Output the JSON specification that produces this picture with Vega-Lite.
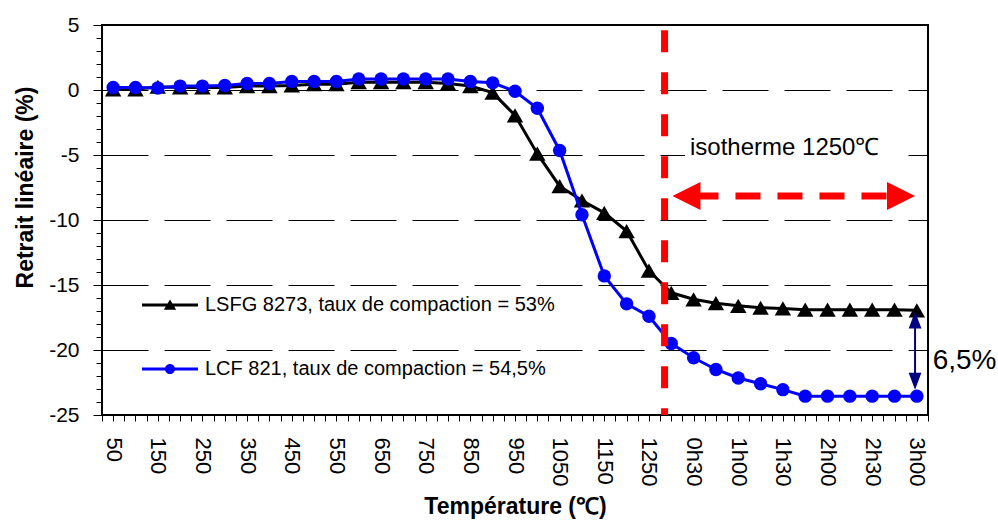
{
  "$schema": "https://vega.github.io/schema/vega-lite/v6.json",
  "width": 826,
  "height": 390,
  "autosize": "none",
  "padding": {"left": 102, "top": 25, "right": 70, "bottom": 107},
  "background": "white",
  "config": {
    "view": {"stroke": "black", "strokeWidth": 2},
    "font": "Liberation Sans",
    "axis": {"domain": false, "labelFont": "Liberation Sans", "titleFont": "Liberation Sans", "labelColor": "black", "titleColor": "black", "tickColor": "black", "tickWidth": 1}
  },
  "data": {
    "values": [
      {"s": "LSFG 8273, taux de compaction = 53%", "i": 0, "t": "50", "v": 0.05},
      {"s": "LSFG 8273, taux de compaction = 53%", "i": 1, "t": "100", "v": 0.05},
      {"s": "LSFG 8273, taux de compaction = 53%", "i": 2, "t": "150", "v": 0.25},
      {"s": "LSFG 8273, taux de compaction = 53%", "i": 3, "t": "200", "v": 0.2},
      {"s": "LSFG 8273, taux de compaction = 53%", "i": 4, "t": "250", "v": 0.2},
      {"s": "LSFG 8273, taux de compaction = 53%", "i": 5, "t": "300", "v": 0.2},
      {"s": "LSFG 8273, taux de compaction = 53%", "i": 6, "t": "350", "v": 0.3},
      {"s": "LSFG 8273, taux de compaction = 53%", "i": 7, "t": "400", "v": 0.3},
      {"s": "LSFG 8273, taux de compaction = 53%", "i": 8, "t": "450", "v": 0.35},
      {"s": "LSFG 8273, taux de compaction = 53%", "i": 9, "t": "500", "v": 0.45},
      {"s": "LSFG 8273, taux de compaction = 53%", "i": 10, "t": "550", "v": 0.45},
      {"s": "LSFG 8273, taux de compaction = 53%", "i": 11, "t": "600", "v": 0.6},
      {"s": "LSFG 8273, taux de compaction = 53%", "i": 12, "t": "650", "v": 0.6},
      {"s": "LSFG 8273, taux de compaction = 53%", "i": 13, "t": "700", "v": 0.6},
      {"s": "LSFG 8273, taux de compaction = 53%", "i": 14, "t": "750", "v": 0.6},
      {"s": "LSFG 8273, taux de compaction = 53%", "i": 15, "t": "800", "v": 0.5},
      {"s": "LSFG 8273, taux de compaction = 53%", "i": 16, "t": "850", "v": 0.3},
      {"s": "LSFG 8273, taux de compaction = 53%", "i": 17, "t": "900", "v": -0.2},
      {"s": "LSFG 8273, taux de compaction = 53%", "i": 18, "t": "950", "v": -1.95},
      {"s": "LSFG 8273, taux de compaction = 53%", "i": 19, "t": "1000", "v": -4.9},
      {"s": "LSFG 8273, taux de compaction = 53%", "i": 20, "t": "1050", "v": -7.4},
      {"s": "LSFG 8273, taux de compaction = 53%", "i": 21, "t": "1100", "v": -8.5},
      {"s": "LSFG 8273, taux de compaction = 53%", "i": 22, "t": "1150", "v": -9.45},
      {"s": "LSFG 8273, taux de compaction = 53%", "i": 23, "t": "1200", "v": -10.85},
      {"s": "LSFG 8273, taux de compaction = 53%", "i": 24, "t": "1250", "v": -13.9},
      {"s": "LSFG 8273, taux de compaction = 53%", "i": 25, "t": "0h15", "v": -15.6},
      {"s": "LSFG 8273, taux de compaction = 53%", "i": 26, "t": "0h30", "v": -16.1},
      {"s": "LSFG 8273, taux de compaction = 53%", "i": 27, "t": "0h45", "v": -16.4},
      {"s": "LSFG 8273, taux de compaction = 53%", "i": 28, "t": "1h00", "v": -16.6},
      {"s": "LSFG 8273, taux de compaction = 53%", "i": 29, "t": "1h15", "v": -16.75},
      {"s": "LSFG 8273, taux de compaction = 53%", "i": 30, "t": "1h30", "v": -16.8},
      {"s": "LSFG 8273, taux de compaction = 53%", "i": 31, "t": "1h45", "v": -16.9},
      {"s": "LSFG 8273, taux de compaction = 53%", "i": 32, "t": "2h00", "v": -16.9},
      {"s": "LSFG 8273, taux de compaction = 53%", "i": 33, "t": "2h15", "v": -16.9},
      {"s": "LSFG 8273, taux de compaction = 53%", "i": 34, "t": "2h30", "v": -16.9},
      {"s": "LSFG 8273, taux de compaction = 53%", "i": 35, "t": "2h45", "v": -16.9},
      {"s": "LSFG 8273, taux de compaction = 53%", "i": 36, "t": "3h00", "v": -16.95},
      {"s": "LCF 821, taux de compaction = 54,5%", "i": 0, "t": "50", "v": 0.2},
      {"s": "LCF 821, taux de compaction = 54,5%", "i": 1, "t": "100", "v": 0.2},
      {"s": "LCF 821, taux de compaction = 54,5%", "i": 2, "t": "150", "v": 0.15},
      {"s": "LCF 821, taux de compaction = 54,5%", "i": 3, "t": "200", "v": 0.3},
      {"s": "LCF 821, taux de compaction = 54,5%", "i": 4, "t": "250", "v": 0.3},
      {"s": "LCF 821, taux de compaction = 54,5%", "i": 5, "t": "300", "v": 0.35},
      {"s": "LCF 821, taux de compaction = 54,5%", "i": 6, "t": "350", "v": 0.5},
      {"s": "LCF 821, taux de compaction = 54,5%", "i": 7, "t": "400", "v": 0.5},
      {"s": "LCF 821, taux de compaction = 54,5%", "i": 8, "t": "450", "v": 0.65},
      {"s": "LCF 821, taux de compaction = 54,5%", "i": 9, "t": "500", "v": 0.65},
      {"s": "LCF 821, taux de compaction = 54,5%", "i": 10, "t": "550", "v": 0.65},
      {"s": "LCF 821, taux de compaction = 54,5%", "i": 11, "t": "600", "v": 0.85},
      {"s": "LCF 821, taux de compaction = 54,5%", "i": 12, "t": "650", "v": 0.85},
      {"s": "LCF 821, taux de compaction = 54,5%", "i": 13, "t": "700", "v": 0.85},
      {"s": "LCF 821, taux de compaction = 54,5%", "i": 14, "t": "750", "v": 0.85},
      {"s": "LCF 821, taux de compaction = 54,5%", "i": 15, "t": "800", "v": 0.85},
      {"s": "LCF 821, taux de compaction = 54,5%", "i": 16, "t": "850", "v": 0.65},
      {"s": "LCF 821, taux de compaction = 54,5%", "i": 17, "t": "900", "v": 0.55},
      {"s": "LCF 821, taux de compaction = 54,5%", "i": 18, "t": "950", "v": -0.1},
      {"s": "LCF 821, taux de compaction = 54,5%", "i": 19, "t": "1000", "v": -1.4},
      {"s": "LCF 821, taux de compaction = 54,5%", "i": 20, "t": "1050", "v": -4.65},
      {"s": "LCF 821, taux de compaction = 54,5%", "i": 21, "t": "1100", "v": -9.6},
      {"s": "LCF 821, taux de compaction = 54,5%", "i": 22, "t": "1150", "v": -14.3},
      {"s": "LCF 821, taux de compaction = 54,5%", "i": 23, "t": "1200", "v": -16.45},
      {"s": "LCF 821, taux de compaction = 54,5%", "i": 24, "t": "1250", "v": -17.4},
      {"s": "LCF 821, taux de compaction = 54,5%", "i": 25, "t": "0h15", "v": -19.5},
      {"s": "LCF 821, taux de compaction = 54,5%", "i": 26, "t": "0h30", "v": -20.6},
      {"s": "LCF 821, taux de compaction = 54,5%", "i": 27, "t": "0h45", "v": -21.5},
      {"s": "LCF 821, taux de compaction = 54,5%", "i": 28, "t": "1h00", "v": -22.15},
      {"s": "LCF 821, taux de compaction = 54,5%", "i": 29, "t": "1h15", "v": -22.6},
      {"s": "LCF 821, taux de compaction = 54,5%", "i": 30, "t": "1h30", "v": -23.05},
      {"s": "LCF 821, taux de compaction = 54,5%", "i": 31, "t": "1h45", "v": -23.55},
      {"s": "LCF 821, taux de compaction = 54,5%", "i": 32, "t": "2h00", "v": -23.55},
      {"s": "LCF 821, taux de compaction = 54,5%", "i": 33, "t": "2h15", "v": -23.55},
      {"s": "LCF 821, taux de compaction = 54,5%", "i": 34, "t": "2h30", "v": -23.55},
      {"s": "LCF 821, taux de compaction = 54,5%", "i": 35, "t": "2h45", "v": -23.55},
      {"s": "LCF 821, taux de compaction = 54,5%", "i": 36, "t": "3h00", "v": -23.55}
    ]
  },
  "layer": [
    {
      "data": {"values": [{"i": 25.62, "i2": 35.47, "v": -3.6, "v2": -5.65}]},
      "mark": {"type": "rect", "fill": "white"},
      "encoding": {
        "x": {"field": "i", "type": "quantitative"},
        "x2": {"field": "i2"},
        "y": {"field": "v", "type": "quantitative"},
        "y2": {"field": "v2"}
      }
    },
    {
      "transform": [{"filter": "datum.s === 'LSFG 8273, taux de compaction = 53%'"}],
      "mark": {"type": "line", "strokeWidth": 3, "color": "#000000"},
      "encoding": {
        "x": {
          "field": "i", "type": "quantitative",
          "scale": {"domain": [-0.5, 36.5], "nice": false, "zero": false},
          "axis": {
            "title": "Température (℃)",
            "titleFontSize": 23, "titleFontWeight": "bold", "titleBaseline": "alphabetic", "titleY": 98,
            "values": [-0.5,0,0.5,1,1.5,2,2.5,3,3.5,4,4.5,5,5.5,6,6.5,7,7.5,8,8.5,9,9.5,10,10.5,11,11.5,12,12.5,13,13.5,14,14.5,15,15.5,16,16.5,17,17.5,18,18.5,19,19.5,20,20.5,21,21.5,22,22.5,23,23.5,24,24.5,25,25.5,26,26.5,27,27.5,28,28.5,29,29.5,30,30.5,31,31.5,32,32.5,33,33.5,34,34.5,35,35.5,36,36.5],
            "tickCount": 200,
            "labelExpr": "datum.value % 2 === 0 ? (datum.value <= 24 ? toString(50 + 50 * datum.value) : floor((datum.value - 24) / 4) + 'h' + ((datum.value - 24) % 4 === 2 ? '30' : '00')) : ''",
            "labelAngle": 90, "labelFontSize": 22, "labelPadding": 16, "tickSize": 6,
            "grid": false, "labelOverlap": false, "labelBound": false
          }
        },
        "y": {
          "field": "v", "type": "quantitative",
          "scale": {"domain": [-25, 5], "nice": false, "zero": false},
          "axis": {
            "title": "Retrait linéaire (%)",
            "titleFontSize": 23, "titleFontWeight": "bold", "titleBaseline": "alphabetic", "titleAngle": -90, "titleAlign": "center",
            "titleX": -70, "titleY": 162,
            "values": [-25,-24,-23,-22,-21,-20,-19,-18,-17,-16,-15,-14,-13,-12,-11,-10,-9,-8,-7,-6,-5,-4,-3,-2,-1,0,1,2,3,4,5],
            "tickCount": 100,
            "labelExpr": "datum.value % 5 === 0 ? toString(datum.value) : ''",
            "labelFontSize": 21, "labelPadding": 14,
            "tickSize": {"condition": {"test": "datum.value % 5 === 0", "value": 9}, "value": 6},
            "grid": true, "gridColor": "black", "gridWidth": 1, "gridDash": [46, 16],
            "gridOpacity": {"condition": {"test": "datum.value % 5 === 0 && datum.value > -25 && datum.value < 5", "value": 1}, "value": 0},
            "labelOverlap": false
          }
        }
      }
    },
    {
      "transform": [{"filter": "datum.s === 'LSFG 8273, taux de compaction = 53%'"}],
      "mark": {"type": "point", "filled": true, "opacity": 1, "shape": "triangle-up", "size": 270, "color": "#000000"},
      "encoding": {
        "x": {"field": "i", "type": "quantitative"},
        "y": {"field": "v", "type": "quantitative"}
      }
    },
    {
      "transform": [{"filter": "datum.s === 'LCF 821, taux de compaction = 54,5%'"}],
      "mark": {"type": "line", "strokeWidth": 3, "color": "#0000FF"},
      "encoding": {
        "x": {"field": "i", "type": "quantitative"},
        "y": {"field": "v", "type": "quantitative"}
      }
    },
    {
      "transform": [{"filter": "datum.s === 'LCF 821, taux de compaction = 54,5%'"}],
      "mark": {"type": "point", "filled": true, "opacity": 1, "shape": "circle", "size": 180, "color": "#0000FF"},
      "encoding": {
        "x": {"field": "i", "type": "quantitative"},
        "y": {"field": "v", "type": "quantitative"}
      }
    },
    {
      "mark": {"type": "point", "filled": true, "opacity": 0},
      "encoding": {
        "x": {"field": "i", "type": "quantitative"},
        "y": {"field": "v", "type": "quantitative"},
        "color": {
          "field": "s", "type": "nominal",
          "scale": {"domain": ["LSFG 8273, taux de compaction = 53%", "LCF 821, taux de compaction = 54,5%"], "range": ["#000000", "#0000FF"]},
          "legend": {
            "title": null, "orient": "none", "legendX": 40, "legendY": 252, "padding": 0,
            "symbolSize": 3136, "symbolOpacity": 1, "symbolStrokeWidth": 0,
            "labelFontSize": 20, "labelFont": "Liberation Sans", "labelColor": "black", "labelLimit": 1000,
            "labelOffset": 7, "rowPadding": 26
          }
        },
        "shape": {
          "field": "s", "type": "nominal",
          "scale": {"domain": ["LSFG 8273, taux de compaction = 53%", "LCF 821, taux de compaction = 54,5%"], "range": ["M-1,-0.054L1,-0.054L1,0.054L-1,0.054ZM0,-0.2L0.22,0.17L-0.22,0.17Z", "M-1,-0.054L1,-0.054L1,0.054L-1,0.054ZM0.18,0A0.18,0.18,0,1,1,-0.18,0A0.18,0.18,0,1,1,0.18,0Z"]},
          "legend": {
            "title": null, "orient": "none", "legendX": 40, "legendY": 252, "padding": 0,
            "symbolSize": 3136, "symbolOpacity": 1, "symbolStrokeWidth": 0,
            "labelFontSize": 20, "labelFont": "Liberation Sans", "labelColor": "black", "labelLimit": 1000,
            "labelOffset": 7, "rowPadding": 26
          }
        }
      }
    },
    {
      "data": {"values": [{"i": 24.7, "v": 4.6, "v2": -25}]},
      "mark": {"type": "rule", "color": "#FF0000", "strokeWidth": 7, "strokeDash": [22, 20]},
      "encoding": {
        "x": {"field": "i", "type": "quantitative"},
        "y": {"field": "v", "type": "quantitative"},
        "y2": {"field": "v2"}
      }
    },
    {
      "data": {"values": [{"i": 34.64, "i2": 25.93, "v": -8.15}]},
      "mark": {"type": "rule", "color": "#FF0000", "strokeWidth": 7, "strokeDash": [25, 17]},
      "encoding": {
        "x": {"field": "i", "type": "quantitative"},
        "x2": {"field": "i2"},
        "y": {"field": "v", "type": "quantitative"}
      }
    },
    {
      "data": {"values": [{"i": 25.68, "v": -8.15}]},
      "mark": {"type": "point", "shape": "M-1,0L1,-1L1,1Z", "filled": true, "color": "#FF0000", "size": 784, "opacity": 1},
      "encoding": {
        "x": {"field": "i", "type": "quantitative"},
        "y": {"field": "v", "type": "quantitative"}
      }
    },
    {
      "data": {"values": [{"i": 35.29, "v": -8.15}]},
      "mark": {"type": "point", "shape": "M1,0L-1,-1L-1,1Z", "filled": true, "color": "#FF0000", "size": 784, "opacity": 1},
      "encoding": {
        "x": {"field": "i", "type": "quantitative"},
        "y": {"field": "v", "type": "quantitative"}
      }
    },
    {
      "data": {"values": [{"i": 25.84, "v": -5.0, "label": "isotherme 1250℃"}]},
      "mark": {"type": "text", "align": "left", "baseline": "alphabetic", "fontSize": 24, "font": "Liberation Sans", "color": "black"},
      "encoding": {
        "x": {"field": "i", "type": "quantitative"},
        "y": {"field": "v", "type": "quantitative"},
        "text": {"field": "label"}
      }
    },
    {
      "data": {"values": [{"i": 35.92, "v": -17.6, "v2": -22.5}]},
      "mark": {"type": "rule", "color": "#000080", "strokeWidth": 2},
      "encoding": {
        "x": {"field": "i", "type": "quantitative"},
        "y": {"field": "v", "type": "quantitative"},
        "y2": {"field": "v2"}
      }
    },
    {
      "data": {"values": [{"i": 35.92, "v": -17.7}]},
      "mark": {"type": "point", "shape": "M0,-1L0.75,1L-0.75,1Z", "filled": true, "color": "#000080", "size": 289, "opacity": 1},
      "encoding": {
        "x": {"field": "i", "type": "quantitative"},
        "y": {"field": "v", "type": "quantitative"}
      }
    },
    {
      "data": {"values": [{"i": 35.92, "v": -22.4}]},
      "mark": {"type": "point", "shape": "M0,1L0.75,-1L-0.75,-1Z", "filled": true, "color": "#000080", "size": 289, "opacity": 1},
      "encoding": {
        "x": {"field": "i", "type": "quantitative"},
        "y": {"field": "v", "type": "quantitative"}
      }
    },
    {
      "data": {"values": [{"i": 36.71, "v": -21.45, "label": "6,5%"}]},
      "mark": {"type": "text", "align": "left", "baseline": "alphabetic", "fontSize": 28, "font": "Liberation Sans", "color": "black"},
      "encoding": {
        "x": {"field": "i", "type": "quantitative"},
        "y": {"field": "v", "type": "quantitative"},
        "text": {"field": "label"}
      }
    }
  ]
}
